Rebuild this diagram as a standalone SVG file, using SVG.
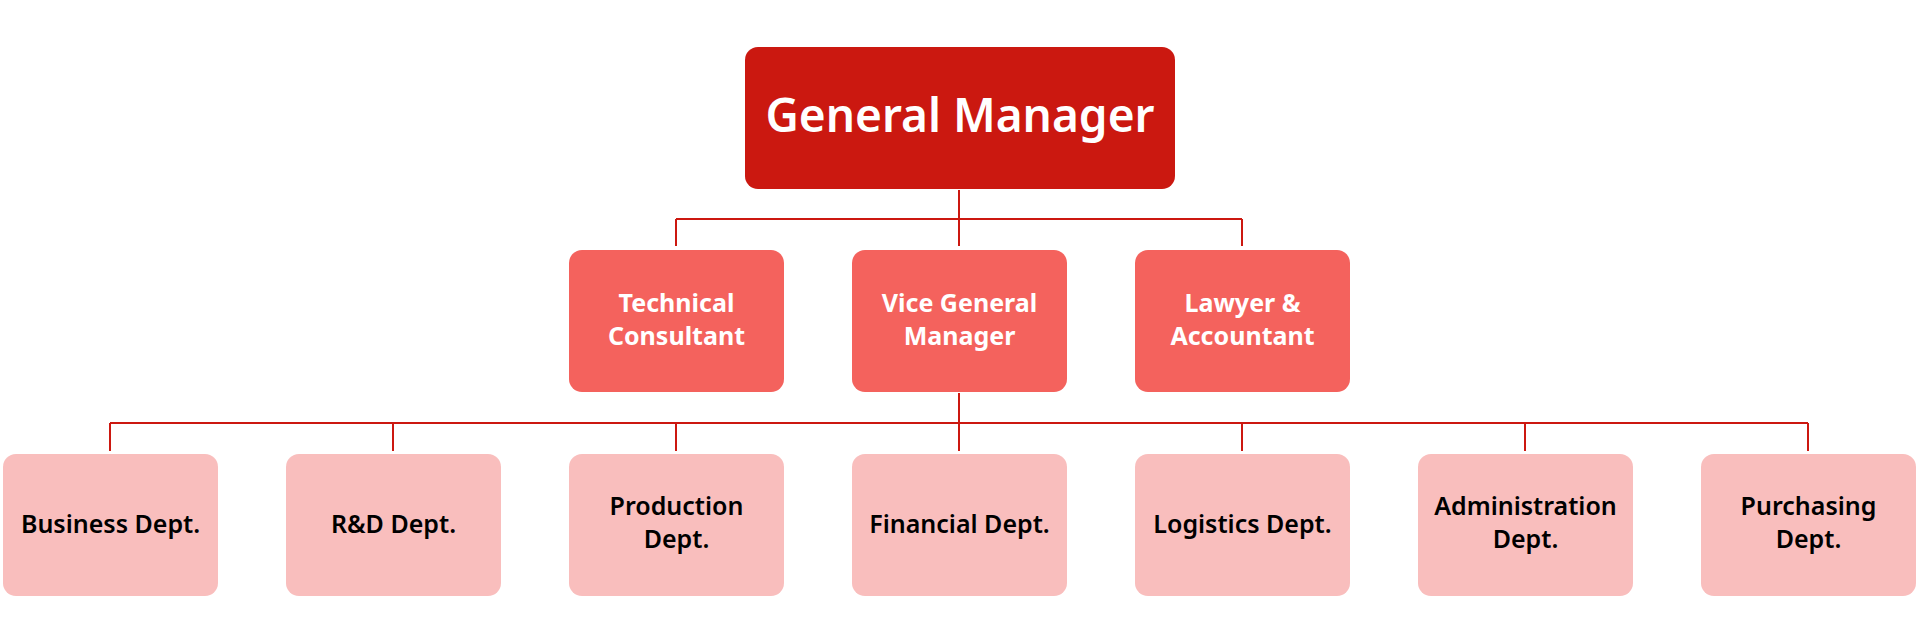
<svg xmlns="http://www.w3.org/2000/svg" width="1920" height="642" viewBox="0 0 1920 642">
<style>
.l1{fill:#CB1810}
.l2{fill:#F4625D}
.l3{fill:#F9BEBD}
.t1{font-family:"Noto Sans","Liberation Sans",sans-serif;font-weight:600;font-size:46px;fill:#FFFFFF;text-anchor:middle}
.t2{font-family:"Noto Sans","Liberation Sans",sans-serif;font-weight:700;font-size:25px;fill:#FFFFFF;text-anchor:middle}
.t3{font-family:"Noto Sans","Liberation Sans",sans-serif;font-weight:600;font-size:25px;fill:#000000;text-anchor:middle}
.c{fill:none;stroke:#CC1810;stroke-width:2}
</style>
<rect width="1920" height="642" fill="#FFFFFF"/>
<g id="connectors">
<path class="c" d="M959 190V246M676 219H1242M676 219V246M1242 219V246"/>
<path class="c" d="M959 393V451M110 423H1808M110 423V451M393 423V451M676 423V451M1242 423V451M1525 423V451M1808 423V451"/>
</g>
<g id="gm"><rect class="l1" x="745" y="47" width="430" height="142" rx="13"/><text class="t1" x="960" y="132">General Manager</text></g>
<g id="tc"><rect class="l2" x="569" y="250" width="215" height="142" rx="13"/><text class="t2" x="676.5" y="312">Technical</text><text class="t2" x="676.5" y="345">Consultant</text></g>
<g id="vgm"><rect class="l2" x="852" y="250" width="215" height="142" rx="13"/><text class="t2" x="959.5" y="312">Vice General</text><text class="t2" x="959.5" y="345">Manager</text></g>
<g id="la"><rect class="l2" x="1135" y="250" width="215" height="142" rx="13"/><text class="t2" x="1242.5" y="312">Lawyer &amp;</text><text class="t2" x="1242.5" y="345">Accountant</text></g>
<g id="bus"><rect class="l3" x="3" y="454" width="215" height="142" rx="13"/><text class="t3" x="110.5" y="533">Business Dept.</text></g>
<g id="rd"><rect class="l3" x="286" y="454" width="215" height="142" rx="13"/><text class="t3" x="393.5" y="533">R&amp;D Dept.</text></g>
<g id="prod"><rect class="l3" x="569" y="454" width="215" height="142" rx="13"/><text class="t3" x="676.5" y="515">Production</text><text class="t3" x="676.5" y="548">Dept.</text></g>
<g id="fin"><rect class="l3" x="852" y="454" width="215" height="142" rx="13"/><text class="t3" x="959.5" y="533">Financial Dept.</text></g>
<g id="log"><rect class="l3" x="1135" y="454" width="215" height="142" rx="13"/><text class="t3" x="1242.5" y="533">Logistics Dept.</text></g>
<g id="adm"><rect class="l3" x="1418" y="454" width="215" height="142" rx="13"/><text class="t3" x="1525.5" y="515">Administration</text><text class="t3" x="1525.5" y="548">Dept.</text></g>
<g id="pur"><rect class="l3" x="1701" y="454" width="215" height="142" rx="13"/><text class="t3" x="1808.5" y="515">Purchasing</text><text class="t3" x="1808.5" y="548">Dept.</text></g>
</svg>
